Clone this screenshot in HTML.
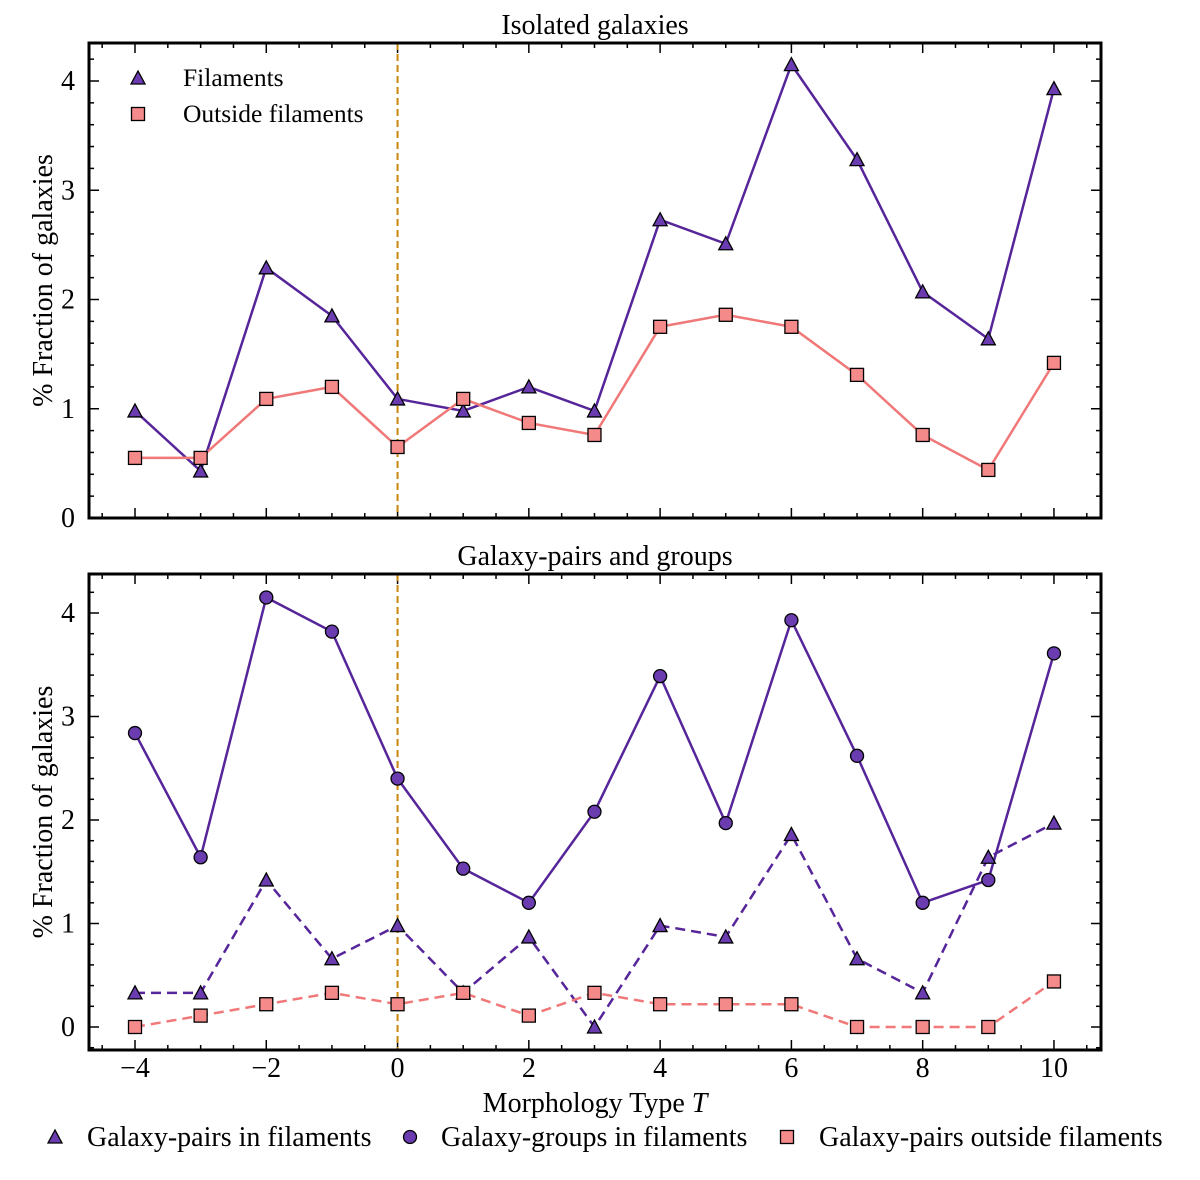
<!DOCTYPE html>
<html><head><meta charset="utf-8"><style>
body{margin:0;background:#fff}
svg{font-family:"Liberation Serif",serif}
</style></head><body>
<svg id="c" width="1200" height="1175"></svg>
<script>
const categories=[-4,-3,-2,-1,0,1,2,3,4,5,6,7,8,9,10];
const isoFil=[0.98,0.43,2.29,1.85,1.09,0.98,1.2,0.98,2.73,2.51,4.15,3.28,2.07,1.64,3.93];
const isoOut=[0.55,0.55,1.09,1.2,0.65,1.09,0.87,0.76,1.75,1.86,1.75,1.31,0.76,0.44,1.42];
const grpFil=[2.84,1.64,4.15,3.82,2.4,1.53,1.2,2.08,3.39,1.97,3.93,2.62,1.2,1.42,3.61];
const pairFil=[0.33,0.33,1.42,0.66,0.98,0.33,0.87,0,0.98,0.87,1.86,0.66,0.33,1.64,1.97];
const pairOut=[0,0.11,0.22,0.33,0.22,0.33,0.11,0.33,0.22,0.22,0.22,0,0,0,0.44];
const xTicks=[-4,-2,0,2,4,6,8,10];
const yTicks=[0,1,2,3,4];
const NS='http://www.w3.org/2000/svg';
const svg=document.getElementById('c');
function mk(t,a,p){const e=document.createElementNS(NS,t);for(const k in a)e.setAttribute(k,a[k]);(p||svg).appendChild(e);return e;}
const X0=89,X1=1101;
const x=v=>135+(v+4)*65.64;
const PUR='#56259a',PM='#6a3cb0',SAL='#f07878',SM='#f48a8a';
const FS=28;
function panel(top,bot,y0,y4,title,name){
  const g=mk('g',{});
  
  
  const u=(y0-y4)/4; const y=v=>y0-v*u;
  const t=mk('text',{x:595,y:top-9,'font-size':FS,'text-anchor':'middle'},g);t.textContent=title;
  
  for(let v=-4.5;v<=10.5;v+=0.5){const px=x(v);if(px<X0||px>X1)continue;const L=Number.isInteger(v)&&v%2===0?10:5;
    mk('line',{x1:px,x2:px,y1:bot,y2:bot-L,stroke:'#000','stroke-width':1.5},g);mk('line',{x1:px,x2:px,y1:top,y2:top+L,stroke:'#000','stroke-width':1.5},g);}
  for(let v=-0.2;v<=4.4;v+=0.2){const vv=Math.round(v*10)/10;const py=y(vv);if(py<top||py>bot)continue;const L=Math.abs(vv-Math.round(vv))<0.01?10:5;
    mk('line',{x1:X0,x2:X0+L,y1:py,y2:py,stroke:'#000','stroke-width':1.5},g);mk('line',{x1:X1,x2:X1-L,y1:py,y2:py,stroke:'#000','stroke-width':1.5},g);}
  yTicks.forEach(v=>{const t=mk('text',{x:X0-14,y:y(v)+9,'font-size':FS,'text-anchor':'end'},g);t.textContent=v;
    });
  const yl=mk('text',{transform:`translate(52,${(top+bot)/2}) rotate(-90)`,'font-size':FS,'text-anchor':'middle'},g);yl.textContent='% Fraction of galaxies';
  
  mk('line',{x1:x(0),x2:x(0),y1:top,y2:bot,stroke:'#c8860a','stroke-width':2,'stroke-dasharray':'7,4'},g);
  mk('rect',{x:X0,y:top,width:X1-X0,height:bot-top,fill:'none',stroke:'#000','stroke-width':3},g);
  return {g,y};
}
function series(p,vals,color,mcolor,marker,dash,name){
  const pts=vals.map((v,i)=>x(categories[i])+','+p.y(v)).join(' ');
  const l=mk('polyline',{points:pts,fill:'none',stroke:color,'stroke-width':2.5,'stroke-dasharray':dash?'10,6':'none'},p.g);
  
  vals.forEach((v,i)=>{const e=drawMarker(x(categories[i]),p.y(v),marker,mcolor,p.g);
    });
}
function drawMarker(cx,cy,m,c,g){
  if(m==='tri')return mk('polygon',{points:`${cx},${cy-7} ${cx-7},${cy+6} ${cx+7},${cy+6}`,fill:c,stroke:'#000','stroke-width':1.3},g);
  if(m==='sq')return mk('rect',{x:cx-6.5,y:cy-6.5,width:13,height:13,fill:c,stroke:'#000','stroke-width':1.3},g);
  return mk('circle',{cx,cy,r:6.5,fill:c,stroke:'#000','stroke-width':1.3},g);
}
const p1=panel(43,518,518,81,'Isolated galaxies','top-panel');
series(p1,isoFil,PUR,PM,'tri',false,'filaments');
series(p1,isoOut,SAL,SM,'sq',false,'outside-filaments');
[['tri',PM,'Filaments',78],['sq',SM,'Outside filaments',114]].forEach(([m,c,t,yy])=>{
  const e=drawMarker(138,yy,m,c,p1.g);
  const tx=mk('text',{x:183,y:yy+8,'font-size':25.5},p1.g);tx.textContent=t;});
const p2=panel(574,1050,1027,613,'Galaxy-pairs and groups','bottom-panel');
series(p2,grpFil,PUR,PM,'circ',false,'groups-in-filaments');
series(p2,pairFil,PUR,PM,'tri',true,'pairs-in-filaments');
series(p2,pairOut,SAL,SM,'sq',true,'pairs-outside-filaments');
xTicks.forEach(v=>{const t=mk('text',{x:x(v),y:1077,'font-size':FS,'text-anchor':'middle'});t.textContent=v<0?'\u2212'+(-v):v;
  });
const xl=mk('text',{x:595,y:1112,'font-size':FS,'text-anchor':'middle'});xl.innerHTML='Morphology Type <tspan font-style="italic">T</tspan>';

[['tri',PM,'Galaxy-pairs in filaments',55,87],['circ',PM,'Galaxy-groups in filaments',410,441],['sq',SM,'Galaxy-pairs outside filaments',787,819]].forEach(([m,c,t,mx,tx0])=>{
  const e=drawMarker(mx,1137,m,c);
  const tx=mk('text',{x:tx0,y:1146,'font-size':FS});tx.textContent=t;});
</script>
</body></html>
